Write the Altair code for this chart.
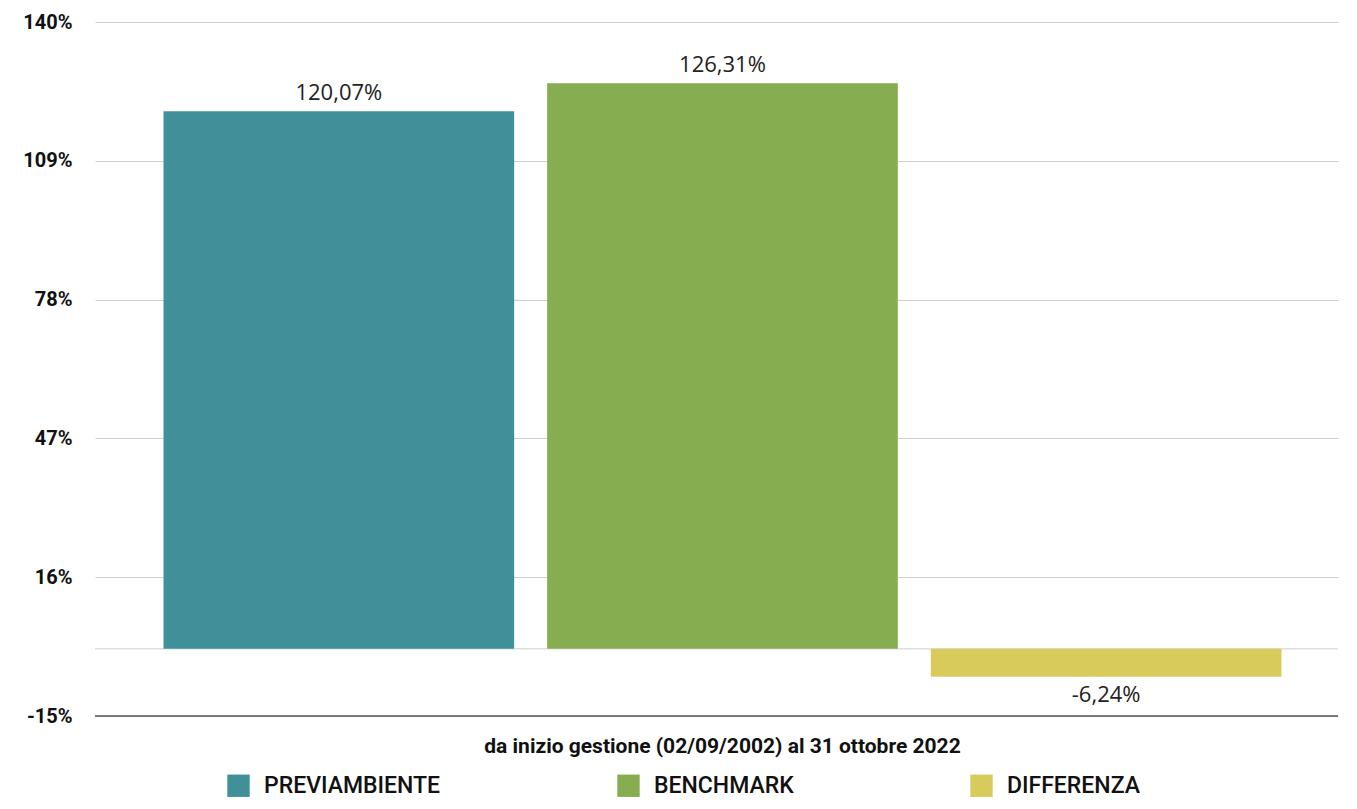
import altair as alt
import pandas as pd

series = ["PREVIAMBIENTE", "BENCHMARK", "DIFFERENZA"]
values = [120.07, 126.31, -6.24]
colors = ["#3f9099", "#86ad50", "#d8cb5c"]
period = "da inizio gestione (02/09/2002) al 31 ottobre 2022"
y_ticks = [-15, 16, 47, 78, 109, 140]

df = pd.DataFrame({
    "period": [period] * 3,
    "serie": series,
    "value": values,
    "label": [f"{v:.2f}".replace(".", ",") + "%" for v in values],
})

FONT = "Roboto"
LFONT = "Open Sans"

base = alt.Chart(df)

bars = base.mark_bar().encode(
    x=alt.X("period:N", title=None,
            scale=alt.Scale(paddingInner=0, paddingOuter=0.04, align=0.565),
            axis=alt.Axis(labelFont=FONT, labelFontSize=21, labelFontWeight="bold",
                          labelColor="#111", labelAngle=0, ticks=False, domain=False,
                          labelPadding=19, labelLimit=1000)),
    xOffset=alt.XOffset("serie:N", sort=series,
                        scale=alt.Scale(paddingInner=0.086, paddingOuter=0.043)),
    y=alt.Y("value:Q", title=None,
            scale=alt.Scale(domain=[-15, 140], nice=False, zero=False),
            axis=alt.Axis(values=y_ticks, labelExpr="datum.value + '%'",
                          labelFont=FONT, labelFontSize=20, labelFontWeight="bold",
                          labelColor="#111", labelPadding=23, ticks=False, domain=False,
                          grid=True, gridColor="#cfcfcf", gridWidth=1)),
    color=alt.Color("serie:N", sort=series,
                    scale=alt.Scale(domain=series, range=colors),
                    legend=alt.Legend(title=None, orient="none", direction="horizontal",
                                      legendX=132, legendY=752,
                                      symbolType="square", symbolSize=500,
                                      symbolStrokeWidth=0, symbolOpacity=1,
                                      labelFont=FONT, labelFontSize=23, labelFontWeight=500,
                                      labelColor="#111", labelOffset=14,
                                      columnPadding=176, padding=0, labelLimit=400)),
)

pos = base.transform_filter("datum.value >= 0").mark_text(
    dy=-18, font=LFONT, fontSize=22, color="#222"
).encode(
    x="period:N", xOffset=alt.XOffset("serie:N", sort=series),
    y="value:Q", text="label:N",
)
neg = base.transform_filter("datum.value < 0").mark_text(
    dy=18, font=LFONT, fontSize=22, color="#222"
).encode(
    x="period:N", xOffset=alt.XOffset("serie:N", sort=series),
    y="value:Q", text="label:N",
)

zero = alt.Chart(pd.DataFrame({"z": [0]})).mark_rule(color="#cfcfcf", strokeWidth=1).encode(y="z:Q")
bottom = alt.Chart(pd.DataFrame({"z": [-15]})).mark_rule(color="#555", strokeWidth=1.5).encode(y="z:Q")

chart = alt.layer(zero, bars, pos, neg, bottom).properties(
    width=1243, height=694,
    autosize=alt.AutoSizeParams(type="none"),
    padding={"left": 87, "top": 14, "right": 10, "bottom": 85},
).configure_view(stroke=None)

chart.save("out.html", embed_options={"renderer": "svg", "actions": False})
